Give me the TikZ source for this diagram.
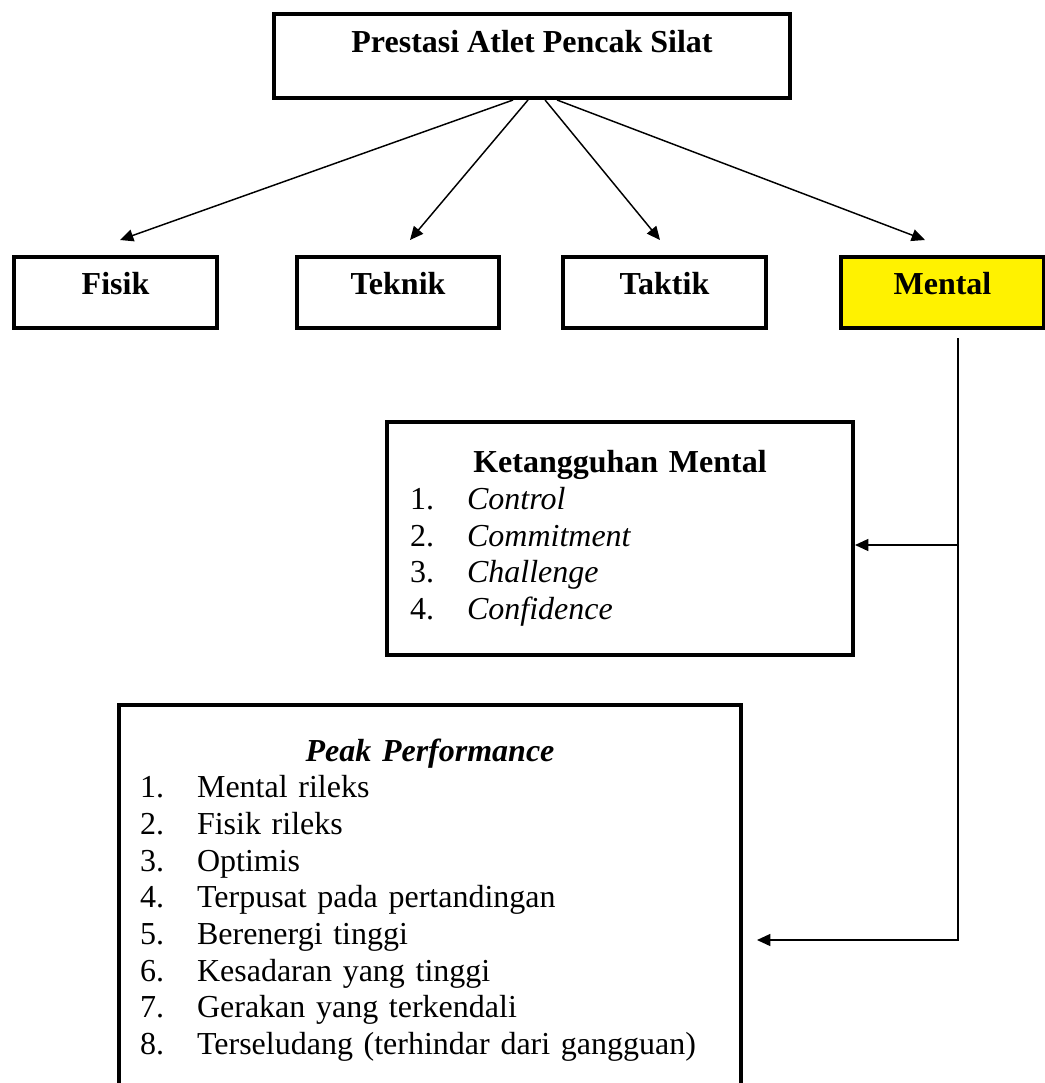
\documentclass[tikz,border=0pt]{standalone}
\usepackage{fontspec}
\setmainfont{Liberation Serif}
\usetikzlibrary{arrows.meta}
\setlength{\parindent}{0pt}

\begin{document}
\begin{tikzpicture}[x=0.375pt, y=-0.375pt,
        box/.style={draw, line width=1.5pt, inner sep=0pt, font=\fontsize{12}{13.75}\selectfont\bfseries},
        headbox/.style={box, minimum width=193.5pt, minimum height=31.5pt, text height=14.6pt, text depth=16.9pt},
        aspectbox/.style={box, minimum width=76pt, minimum height=26.6pt, text height=14.25pt, text depth=12.4pt},
        listbox/.style={draw, line width=1.5pt, inner ysep=0pt, align=left, font=\fontsize{12}{13.75}\selectfont},
        conn/.style={line width=0.55pt},
        arr/.style={conn, -{Triangle[length=5pt, width=4.5pt]}}]
        \useasboundingbox (0,0) rectangle (1045,1083);

        \node[headbox] (prestasi) at (532,56) {Prestasi Atlet Pencak Silat};

        \node[aspectbox] (fisik)  at (115.5,292.5) {Fisik};
        \node[aspectbox] (teknik) at (398,292.5)   {Teknik};
        \node[aspectbox] (taktik) at (664.5,292.5) {Taktik};
        \node[aspectbox, fill=yellow] (mental) at (942.5,292.5) {Mental};

        \node[listbox, minimum width=174.75pt, minimum height=87.4pt, inner xsep=8.6pt, text width=157.5pt] (tangguh) at (620,538.5) {%
            {\centering\textbf{Ketangguhan Mental}\par}
            \makebox[21.4pt][l]{1.}\textit{Control}\\
            \makebox[21.4pt][l]{2.}\textit{Commitment}\\
            \makebox[21.4pt][l]{3.}\textit{Challenge}\\
            \makebox[21.4pt][l]{4.}\textit{Confidence}};

        \node[listbox, minimum width=233.25pt, minimum height=146.25pt, inner xsep=7.9pt, text width=217.5pt] (peak) at (430,900) {%
            {\centering\textbf{\textit{Peak Performance}}\par}
            \makebox[21.4pt][l]{1.}Mental rileks\\
            \makebox[21.4pt][l]{2.}Fisik rileks\\
            \makebox[21.4pt][l]{3.}Optimis\\
            \makebox[21.4pt][l]{4.}Terpusat pada pertandingan\\
            \makebox[21.4pt][l]{5.}Berenergi tinggi\\
            \makebox[21.4pt][l]{6.}Kesadaran yang tinggi\\
            \makebox[21.4pt][l]{7.}Gerakan yang terkendali\\
            \makebox[21.4pt][l]{8.}Terseludang (terhindar dari gangguan)};

        \coordinate (fisiktip)  at (120,240);
        \coordinate (teknitip)  at (410,240);
        \coordinate (taktiktip) at (660,240);
        \coordinate (mentaltip) at (925,240);
        \coordinate (mentalfoot) at (958,338);
        \coordinate (tangguhjoin) at (958,545);
        \coordinate (peaktip) at (757,940);

        \draw[arr] ([xshift=-7.1pt]prestasi.south) -- (fisiktip);
        \draw[arr] ([xshift=-1.5pt]prestasi.south) -- (teknitip);
        \draw[arr] ([xshift=4.9pt]prestasi.south) -- (taktiktip);
        \draw[arr] ([xshift=9.4pt]prestasi.south) -- (mentaltip);

        \draw[arr] (mentalfoot) |- (peaktip);
        \draw[arr] (tangguhjoin) -- (tangguh.east |- tangguhjoin);
\end{tikzpicture}
\end{document}
